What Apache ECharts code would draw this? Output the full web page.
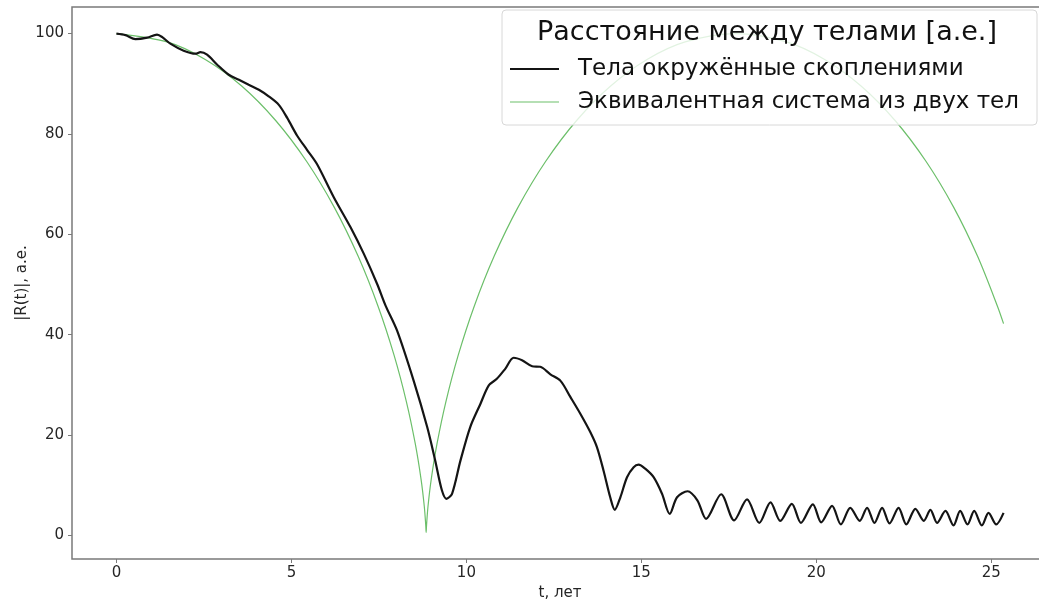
<!DOCTYPE html>
<html>
<head>
<meta charset="utf-8">
<script src="https://cdn.jsdelivr.net/npm/echarts@6/dist/echarts.min.js"></script>
<style>
  html, body { margin: 0; padding: 0; background: #fff; }
  #charts { width: 1039px; height: 601px; }
</style>
</head>
<body>
<div id="charts"></div>
<script>
// Тела окружённые скоплениями (время, расстояние)
var tBodies = [0, 0.26, 0.54, 0.88, 1.16, 1.31, 1.54, 1.92, 2.26, 2.4, 2.59, 2.88, 3.21, 3.5, 3.78, 4.07,
	4.35, 4.64, 4.88, 5.16, 5.45, 5.73, 6.21, 6.69, 7.07, 7.45, 7.69, 8.02, 8.49, 8.88, 9.11, 9.3, 9.43,
	9.59, 9.83, 10.11, 10.4, 10.64, 10.87, 11.11, 11.35, 11.59, 11.88, 12.11, 12.4, 12.69, 12.97, 13.26,
	13.54, 13.73, 13.92, 14.11, 14.24, 14.4, 14.59, 14.78, 14.92, 15.11, 15.35, 15.59, 15.81, 16.02,
	16.32, 16.6, 16.85, 17.28, 17.65, 18.02, 18.37, 18.69, 18.97, 19.3, 19.56, 19.9, 20.14, 20.45, 20.7,
	20.97, 21.24, 21.45, 21.66, 21.88, 22.09, 22.35, 22.57, 22.83, 23.07, 23.26, 23.45, 23.69, 23.92,
	24.11, 24.32, 24.51, 24.73, 24.92, 25.14, 25.35];
var rBodies = [100, 99.7, 98.9, 99.2, 99.8, 99.3, 98.0, 96.6, 96.0, 96.3, 95.8, 93.8, 91.8, 90.8, 89.8, 88.8,
	87.5, 85.8, 83.2, 79.7, 76.8, 74.0, 67.4, 61.4, 56.1, 50.1, 45.8, 40.8, 30.9, 21.6, 14.9, 9.0, 7.3,
	8.3, 14.9, 21.6, 26.2, 29.9, 31.2, 33.2, 35.4, 34.9, 33.7, 33.6, 32.1, 30.8, 27.6, 24.2,
	20.6, 17.6, 12.9, 7.6, 5.1, 7.6, 11.6, 13.6, 14.1, 13.3, 11.6, 8.3, 4.3, 7.6,
	8.8, 7.0, 3.3, 8.2, 3.0, 7.2, 2.5, 6.6, 2.9, 6.3, 2.5, 6.2, 2.6, 5.9, 2.2,
	5.5, 2.9, 5.5, 2.5, 5.5, 2.4, 5.5, 2.2, 5.3, 2.9, 5.1, 2.5, 4.9, 2.0,
	4.9, 2.2, 4.9, 2.0, 4.5, 2.2, 4.5];

// Эквивалентная система из двух тел
var tTwoBody = [0, 1.448, 2.538, 3.578, 4.55, 5.437, 6.226, 6.908, 7.478, 7.937, 8.288, 8.539, 8.704,
	8.798, 8.839, 8.85, 8.861, 8.902, 8.996, 9.161, 9.412, 9.763, 10.222, 10.792, 11.474, 12.263,
	13.15, 14.122, 15.162, 16.252, 17.7, 19.148, 20.238, 21.278, 22.25, 23.137, 23.926, 24.608,
	25.178, 25.35];
var rTwoBody = [100, 98.34, 94.84, 89.55, 82.68, 74.51, 65.37, 55.61, 45.63, 35.82, 26.58, 18.27, 11.22,
	5.72, 1.99, 0.6, 1.99, 5.72, 11.22, 18.27, 26.58, 35.82, 45.63, 55.61, 65.37, 74.51,
	82.68, 89.55, 94.84, 98.34, 100, 98.34, 94.84, 89.55, 82.68, 74.51, 65.37, 55.61,
	45.63, 42.2];

var xTicks = [0, 5, 10, 15, 20, 25];
var yTicks = [0, 20, 40, 60, 80, 100];

var seriesNames = ['Тела окружённые скоплениями', 'Эквивалентная система из двух тел'];
var legendTitle = 'Расстояние между телами [а.е.]';

var colorBodies = '#141414';
var colorTwoBody = '#6cbf6a';

function zip(xs, ys){
	var out = [];
	for(var i = 0; i < xs.length; i++){
		out.push([xs[i], ys[i]]);
	}
	return out;
}

var font = 'DejaVu Sans';
var spine = '#7a7a7a';

var myChart = echarts.init(document.getElementById('charts'));

var option = {
	animation: false,
	backgroundColor: '#fff',
	textStyle: { fontFamily: font },
	grid: {
		left: 72, right: -9, top: 7, bottom: 42,
		outerBoundsMode: 'none', containLabel: false,
		show: true, borderColor: spine, borderWidth: 1.5, backgroundColor: 'transparent'
	},
	xAxis: {
		type: 'value', min: -1.27, max: 26.62,
		name: 't, лет', nameLocation: 'middle', nameGap: 27, nameMoveOverlap: false,
		nameTextStyle: { fontFamily: font, fontSize: 15, color: '#262626' },
		axisLine: { show: false, onZero: false },
		splitLine: { show: false },
		axisTick: { show: true, inside: false, length: 4, customValues: xTicks, lineStyle: { color: spine, width: 1 } },
		axisLabel: { customValues: xTicks, margin: 7, fontFamily: font, fontSize: 15, color: '#262626' }
	},
	yAxis: {
		type: 'value', min: -4.7, max: 105.3,
		name: '|R(t)|, а.е.', nameLocation: 'middle', nameGap: 42, nameRotate: 90, nameMoveOverlap: false,
		nameTextStyle: { fontFamily: font, fontSize: 15, color: '#262626' },
		axisLine: { show: false, onZero: false },
		splitLine: { show: false },
		axisTick: { show: true, inside: false, length: 4, customValues: yTicks, lineStyle: { color: spine, width: 1 } },
		axisLabel: { customValues: yTicks, margin: 8, fontFamily: font, fontSize: 15, color: '#262626' }
	},
	graphic: [{
		type: 'rect', z: 3,
		shape: { x: 502, y: 10, width: 535, height: 115, r: 4 },
		style: { fill: 'rgba(255,255,255,0.8)', stroke: '#d8d8d8', lineWidth: 1 }
	}, {
		type: 'text', z: 5,
		x: 767, y: 33,
		style: {
			text: legendTitle, font: '27px "DejaVu Sans"', fill: '#111',
			align: 'center', verticalAlign: 'middle'
		}
	}],
	legend: {
		orient: 'vertical', left: 502, top: 10, z: 5,
		padding: [46, 10, 10, 8],
		itemWidth: 49, itemHeight: 12, itemGap: 7,
		symbolKeepAspect: true,
		data: [
			{ name: seriesNames[0], icon: 'path://M0,0L49,0L49,2.2L0,2.2Z', itemStyle: { color: colorBodies } },
			{ name: seriesNames[1], icon: 'path://M0,0L49,0L49,1.2L0,1.2Z', itemStyle: { color: colorTwoBody } }
		],
		textStyle: { fontFamily: font, fontSize: 23, lineHeight: 26, color: '#111', padding: [0, 0, 0, 14] }
	},
	series: [{
		name: seriesNames[0], type: 'line', symbol: 'none', smooth: 0.3,
		z: 2,
		lineStyle: { color: colorBodies, width: 2.2 },
		itemStyle: { color: colorBodies },
		data: zip(tBodies, rBodies)
	}, {
		name: seriesNames[1], type: 'line', symbol: 'none', smooth: 0.3,
		z: 1,
		lineStyle: { color: colorTwoBody, width: 1.2 },
		itemStyle: { color: colorTwoBody },
		data: zip(tTwoBody, rTwoBody)
	}]
};

myChart.setOption(option);
</script>
</body>
</html>
